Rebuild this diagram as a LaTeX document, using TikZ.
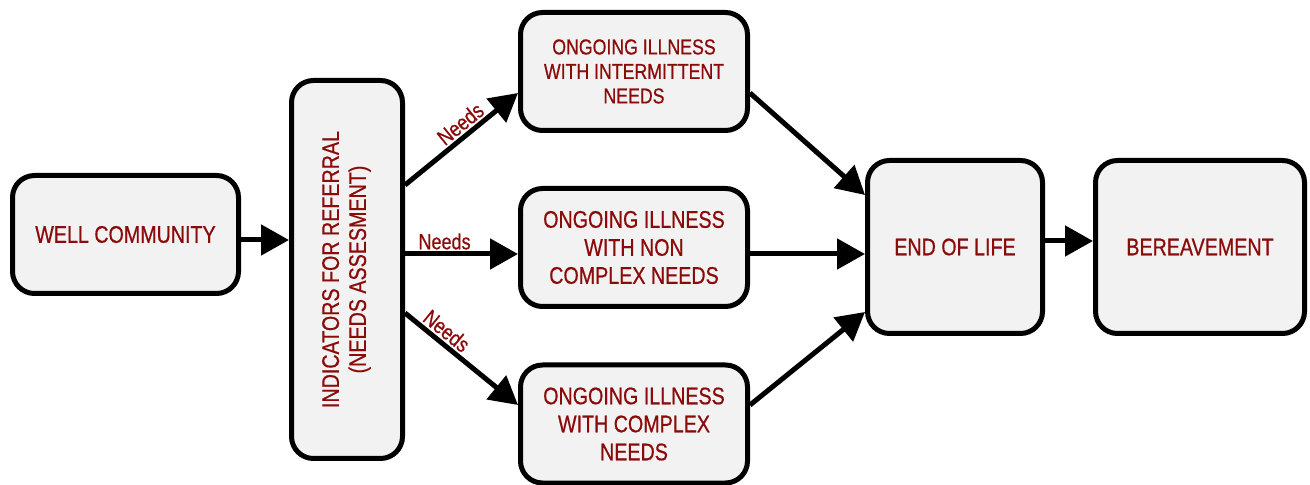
\documentclass[tikz,border=0pt]{standalone}
\usepackage{fontspec}
\setmainfont[FakeStretch=0.82, FakeBold=0.6]{Liberation Sans}
\usepackage{xcolor}
\usepackage{graphicx}
\usetikzlibrary{arrows.meta, positioning}

\definecolor{boxgrey}{HTML}{F2F2F2}
\definecolor{darkred}{HTML}{8B0A0A}

\tikzset{
    stage/.style={draw, line width=2.5pt, rounded corners=11pt, fill=boxgrey,
        text=darkred, align=center, inner sep=2pt,
        font=\fontsize{12}{14}\selectfont},
    flow/.style={line width=2.5pt, -{Triangle[length=14pt, width=15pt]}},
    needs/.style={text=darkred, inner sep=0pt, font=\fontsize{11}{12}\selectfont}
}

\begin{document}
\begin{tikzpicture}[x=0.5pt, y=-0.5pt]
        \useasboundingbox (0, 0) rectangle (1310, 485);

        \node[stage, minimum width=113pt, minimum height=59pt] (well) at (125.5, 234.5) {WELL COMMUNITY};
        \node[stage, minimum width=55.5pt, minimum height=189pt] (ind) at (347, 269.5)
            {\rotatebox{90}{\fontsize{12}{13.5}\selectfont\begin{tabular}{@{}c@{}}INDICATORS FOR REFERRAL\\(NEEDS ASSESMENT)\end{tabular}}};
        \node[stage, minimum width=113.5pt, minimum height=59pt,
            font=\fontsize{10.8}{12.25}\selectfont] (inter) at (634, 71.5) {ONGOING ILLNESS\\WITH INTERMITTENT\\NEEDS};
        \node[stage, minimum width=113.5pt, minimum height=59pt] (noncx) at (634, 247.5) {ONGOING ILLNESS\\WITH NON\\COMPLEX NEEDS};
        \node[stage, minimum width=113.5pt, minimum height=59pt] (cx) at (634, 424) {ONGOING ILLNESS\\WITH COMPLEX\\NEEDS};
        \node[stage, minimum width=87.5pt, minimum height=86.5pt] (eol) at (955, 247) {END OF LIFE};
        \node[stage, minimum width=104.5pt, minimum height=86.5pt] (bereav) at (1200, 247) {BEREAVEMENT};

        % referral
        \draw[flow] ([yshift=-2.75pt]well.east) to ([yshift=-2.75pt]well.east -| ind.west);

        % needs
        \draw[flow] ([yshift=42.25pt]ind.east) to node[needs, sloped, above=1pt, pos=0.56] {Needs} ([yshift=-10.75pt]inter.west);
        \draw[flow] ([yshift=7.75pt]ind.east) to node[needs, above=1pt, pos=0.35] {Needs} ([yshift=-3.25pt]noncx.west);
        \draw[flow] ([yshift=-21.75pt]ind.east) to node[needs, sloped, above=1pt, pos=0.3] {Needs} ([yshift=9.5pt]cx.west);

        % end of life
        \draw[flow] ([yshift=-10.75pt]inter.east) to ([yshift=26pt]eol.west);
        \draw[flow] ([yshift=-3.25pt]noncx.east) to ([yshift=-3.5pt]eol.west);
        \draw[flow] ([yshift=9.5pt]cx.east) to ([yshift=-32.5pt]eol.west);
        \draw[flow] ([yshift=3pt]eol.east) to ([yshift=3pt]bereav.west);
\end{tikzpicture}
\end{document}
